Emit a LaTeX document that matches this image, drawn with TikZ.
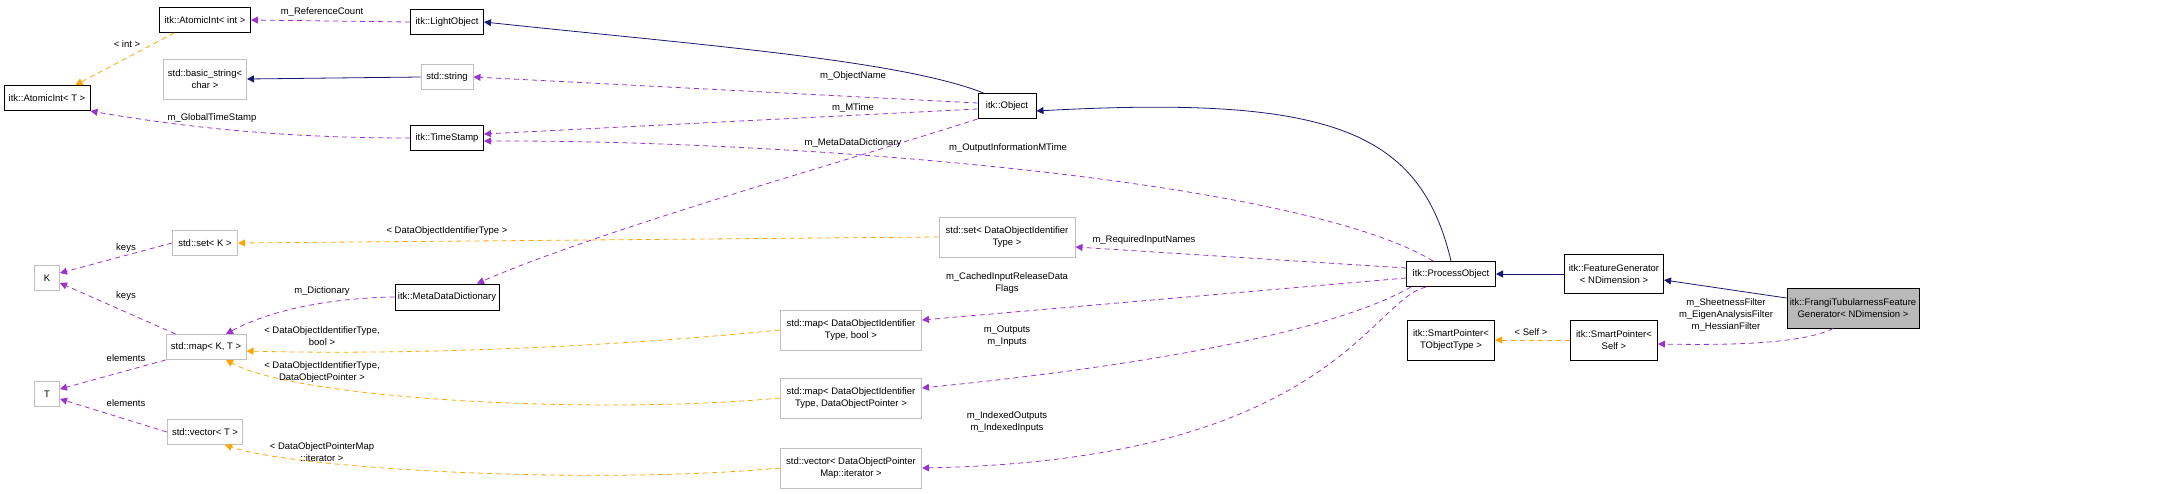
\documentclass[tikz,border=0pt]{standalone}
\usepackage{fontspec}
\setmainfont{Liberation Sans}
\usetikzlibrary{arrows.meta,calc}
\definecolor{nav}{HTML}{191970}
\definecolor{pur}{HTML}{9A32CD}
\definecolor{org}{HTML}{FFA500}
\begin{document}
\begin{tikzpicture}[x=1pt,y=-1pt,font=\fontsize{9.5}{12}\selectfont,
 box/.style={draw=black,line width=1pt,fill=white,align=center,inner sep=1pt},
 gbox/.style={draw=gray!50,line width=1pt,fill=white,align=center,inner sep=1pt},
 inh/.style={draw=nav,line width=0.8pt,-{Triangle[length=7pt,width=7pt]}},
 use/.style={draw=pur,line width=0.8pt,dash pattern=on 5pt off 4pt,-{Triangle[length=7pt,width=7pt]}},
 tpl/.style={draw=org,line width=0.8pt,dash pattern=on 5pt off 4pt,-{Triangle[length=7pt,width=7pt]}},
 lab/.style={align=center,inner sep=0pt}]
\useasboundingbox (0,0) rectangle (2168,493);
\node[box,minimum width=91,minimum height=25] (ai) at (205,20) {itk::AtomicInt< int >};
\node[box,minimum width=73,minimum height=25] (lo) at (447,22) {itk::LightObject};
\node[box,minimum width=86,minimum height=25] (at) at (47,98) {itk::AtomicInt< T >};
\node[gbox,minimum width=83,minimum height=40] (bs) at (205,79) {std::basic\_string<\\char >};
\node[gbox,minimum width=52,minimum height=25] (ss) at (447,77) {std::string};
\node[box,minimum width=73,minimum height=25] (ts) at (447,138) {itk::TimeStamp};
\node[gbox,minimum width=65,minimum height=25] (sk) at (205,243) {std::set< K >};
\node[gbox,minimum width=25,minimum height=25] (K) at (47,278) {K};
\node[box,minimum width=104,minimum height=26] (md) at (447,297) {itk::MetaDataDictionary};
\node[gbox,minimum width=80,minimum height=25] (mk) at (206,347) {std::map< K, T >};
\node[gbox,minimum width=25,minimum height=25] (T) at (47,394) {T};
\node[gbox,minimum width=75,minimum height=25] (vt) at (205,432) {std::vector< T >};
\node[box,minimum width=58,minimum height=25] (ob) at (1007,106) {itk::Object};
\node[gbox,minimum width=136,minimum height=40] (sd) at (1007,237) {std::set< DataObjectIdentifier\\Type >};
\node[box,minimum width=89,minimum height=25] (po) at (1451,274) {itk::ProcessObject};
\node[gbox,minimum width=141,minimum height=40] (mb) at (851,330) {std::map< DataObjectIdentifier\\Type, bool >};
\node[gbox,minimum width=141,minimum height=40] (mp) at (851,398) {std::map< DataObjectIdentifier\\Type, DataObjectPointer >};
\node[gbox,minimum width=141,minimum height=40] (vp) at (851,468) {std::vector< DataObjectPointer\\Map::iterator >};
\node[box,minimum width=99,minimum height=39] (fg) at (1614,274) {itk::FeatureGenerator\\< NDimension >};
\node[box,minimum width=87,minimum height=40] (spt) at (1451,340) {itk::SmartPointer<\\TObjectType >};
\node[box,minimum width=87,minimum height=40] (sps) at (1614,340) {itk::SmartPointer<\\Self >};
\node[box,fill=gray!55,minimum width=132,minimum height=40] (fr) at (1853,308) {itk::FrangiTubularnessFeature\\Generator< NDimension >};

\draw[use] (lo.west) -- (ai.east);
\node[lab] at (322,12) {m\_ReferenceCount};
\draw[tpl] ($(ai.south west)+(15,0)$) -- ($(at.north east)+(-15,0)$);
\node[lab] at (127,44) {< int >};
\draw[inh] (ss.west) -- (bs.east);
\draw[use] (ts.west) .. controls (300,138) and (200,130) .. (at.south east);
\node[lab] at (212,118) {m\_GlobalTimeStamp};
\draw[inh] ($(ob.north west)+(6,0)$) .. controls (900,60) and (700,45) .. (lo.east);
\draw[use] ($(ob.west)+(0,-3)$) -- (ss.east);
\node[lab] at (853,76) {m\_ObjectName};
\draw[use] ($(ob.west)+(0,3)$) -- ([yshift=4]ts.east);
\node[lab] at (853,108) {m\_MTime};
\draw[use] (ob.south west) .. controls (850,160) and (600,230) .. ([xshift=30]md.north);
\node[lab] at (853,143) {m\_MetaDataDictionary};
\draw[use] ($(po.north west)+(27,0)$) .. controls (1300,180) and (800,140) .. ([yshift=-3]ts.east);
\node[lab] at (1008,148) {m\_OutputInformationMTime};
\draw[inh] (po.north) .. controls (1420,130) and (1330,95) .. ([yshift=-5]ob.east);
\draw[use] (sk.west) -- ([yshift=5]K.east);
\node[lab] at (126,248) {keys};
\draw[use] ([xshift=10]mk.north west) -- ([yshift=-5]K.east);
\node[lab] at (126,296) {keys};
\draw[use] (mk.south west) -- ([yshift=5]T.east);
\node[lab] at (126,358) {elements};
\draw[use] (vt.west) -- ([yshift=-5]T.east);
\node[lab] at (126,403) {elements};
\draw[use] (md.west) .. controls (330,298) and (270,310) .. ([xshift=20]mk.north);
\node[lab] at (322,291) {m\_Dictionary};
\draw[tpl] (sd.west) -- (sk.east);
\node[lab] at (447,231) {< DataObjectIdentifierType >};
\draw[tpl] (mb.west) .. controls (600,348) and (400,355) .. ([yshift=-4]mk.east);
\node[lab] at (322,336) {< DataObjectIdentifierType,\\bool >};
\draw[tpl] (mp.west) .. controls (600,415) and (300,400) .. ([xshift=20]mk.south);
\node[lab] at (322,372) {< DataObjectIdentifierType,\\DataObjectPointer >};
\draw[tpl] (vp.west) .. controls (600,485) and (300,470) .. ([xshift=20]vt.south);
\node[lab] at (322,452) {< DataObjectPointerMap\\::iterator >};
\draw[use] ([yshift=6]po.west) -- ([yshift=-10]sd.east);
\node[lab] at (1144,240) {m\_RequiredInputNames};
\draw[use] ([yshift=-4]po.west) -- ([yshift=10]mb.east);
\node[lab] at (1007,283) {m\_CachedInputReleaseData\\Flags};
\draw[use] ($(po.south west)+(5,0)$) .. controls (1300,350) and (1000,380) .. ([yshift=10]mp.east);
\node[lab] at (1007,336) {m\_Outputs\\m\_Inputs};
\draw[use] ($(po.south west)+(20,0)$) .. controls (1370,300) and (1330,460) .. (vp.east);
\node[lab] at (1007,422) {m\_IndexedOutputs\\m\_IndexedInputs};
\draw[inh] (fg.west) -- (po.east);
\draw[inh] ([yshift=10]fr.west) -- ([yshift=-6]fg.east);
\draw[tpl] (sps.west) -- (spt.east);
\node[lab] at (1531,332) {< Self >};
\draw[use] ([xshift=-20]fr.south) .. controls (1800,345) and (1720,345) .. ([yshift=-4]sps.east);
\node[lab] at (1726,315) {m\_SheetnessFilter\\m\_EigenAnalysisFilter\\m\_HessianFilter};
\end{tikzpicture}
\end{document}
